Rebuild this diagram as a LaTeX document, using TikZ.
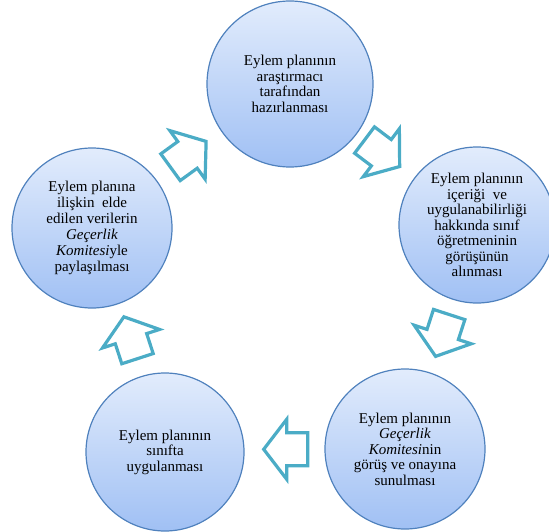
\documentclass[tikz,border=0pt]{standalone}
\usepackage{fontspec}
\setmainfont{Liberation Serif}
\definecolor{arrteal}{RGB}{75,172,198}
\definecolor{circedge}{RGB}{79,129,189}
\definecolor{circtop}{RGB}{226,236,252}
\definecolor{circbot}{RGB}{160,192,244}
\tikzset{
  stage/.style={circle, draw=circedge, line width=1.2pt, top color=circtop, bottom color=circbot,
    align=center, inner sep=0pt, text=black, font=\fontsize{15}{15.5}\selectfont},
  blockarrow/.style={draw=arrteal, line width=3.2pt, fill=white, line join=miter},
  pics/blockarr/.style={code={
    \draw[blockarrow] (23pt,0pt) -- (0pt,30pt) -- (0pt,16.5pt) -- (-21pt,16.5pt)
      -- (-21pt,-16.5pt) -- (0pt,-16.5pt) -- (0pt,-30pt) -- cycle;
  }}
}
\begin{document}
\begin{tikzpicture}[x=1pt,y=-1pt]
\useasboundingbox (0,0) rectangle (549,532);
\node[stage, minimum size=166pt] (prep) at (290,84) {Eylem planının\\araştırmacı\\tarafından\\hazırlanması};
\node[stage, minimum size=156pt] (view) at (477,225) {Eylem planının\\içeriği \ ve\\uygulanabilirliği\\hakkında sınıf\\öğretmeninin\\görüşünün\\alınması};
\node[stage, minimum size=160pt] (approve) at (405,449) {Eylem planının\\\textit{Geçerlik}\\\textit{Komitesi}nin\\görüş ve onayına\\sunulması};
\node[stage, minimum size=158pt] (apply) at (165,452) {Eylem planının\\sınıfta\\uygulanması};
\node[stage, minimum size=160pt, font=\fontsize{15}{16}\selectfont] (share) at (92,228) {Eylem planına\\ilişkin \ elde\\edilen verilerin\\\textit{Geçerlik}\\\textit{Komitesi}yle\\paylaşılması};
\pic[rotate=36] at (187.5,154.9) {blockarr};
\pic[rotate=-37] at (381.3,152.7) {blockarr};
\pic[rotate=252] at (442.7,334.5) {blockarr};
\pic[rotate=180] at (286.7,449.3) {blockarr};
\pic[rotate=108] at (131,338.7) {blockarr};
\end{tikzpicture}
\end{document}
